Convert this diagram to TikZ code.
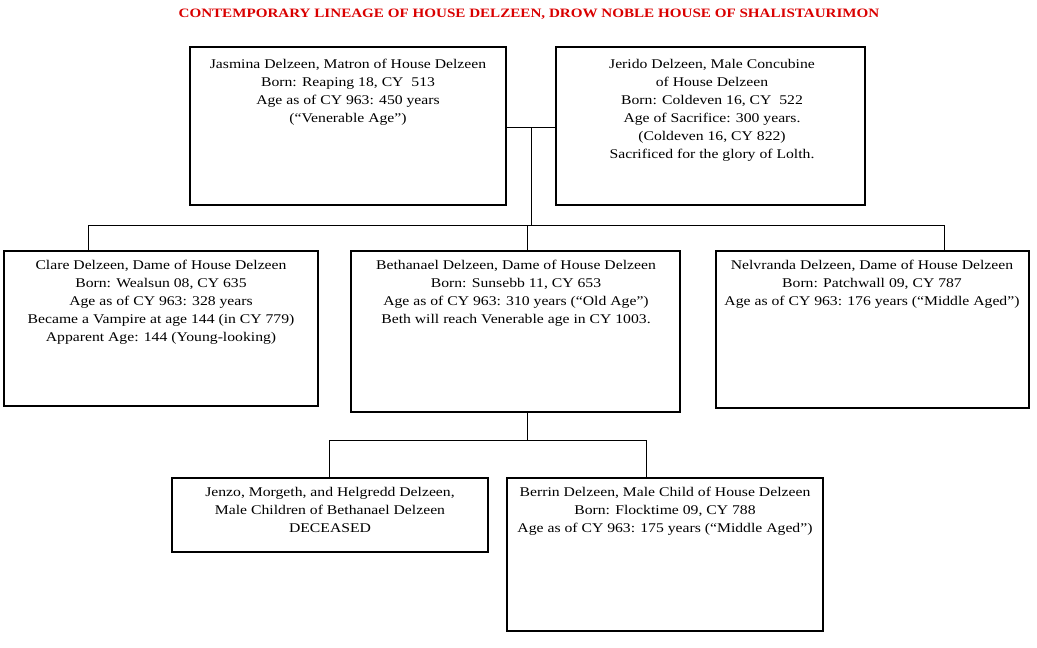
\documentclass[tikz,border=0pt]{standalone}
\usepackage{fontspec}
\setmainfont{Liberation Serif}[FakeStretch=1.18]
\begin{document}
\begin{tikzpicture}[x=1pt,y=-1pt,
  box/.style={draw,line width=1.6pt},
  txt/.style={anchor=north,align=center,font=\fontsize{13.3}{18}\selectfont,inner sep=0pt},
  ln/.style={line width=0.7pt}]
\useasboundingbox (0,0) rectangle (1037,648);
\node[font=\fontsize{12.8}{14}\selectfont\bfseries,text=red!85!black] (title) at (529,14) {CONTEMPORARY LINEAGE OF HOUSE DELZEEN, DROW NOBLE HOUSE OF SHALISTAURIMON};
\draw[box] (190,47) rectangle (506,205) coordinate (b1);
\draw[box] (556,47) rectangle (865,205) coordinate (b2);
\draw[box] (4,251) rectangle (318,406);
\draw[box] (351,251) rectangle (680,412);
\draw[box] (716,251) rectangle (1029,408);
\draw[box] (172,478) rectangle (488,552);
\draw[box] (507,478) rectangle (823,631);
\node[txt] (t1) at (348,59) {Jasmina Delzeen, Matron of House Delzeen\\Born: Reaping 18, CY\ \ 513\\Age as of CY 963: 450 years\\(“Venerable Age”)};
\node[txt] (t2) at (712,59) {Jerido Delzeen, Male Concubine\\of House Delzeen\\Born: Coldeven 16, CY\ \ 522\\Age of Sacrifice: 300 years.\\(Coldeven 16, CY 822)\\Sacrificed for the glory of Lolth.};
\node[txt] (t3) at (161,260) {Clare Delzeen, Dame of House Delzeen\\Born: Wealsun 08, CY 635\\Age as of CY 963: 328 years\\Became a Vampire at age 144 (in CY 779)\\Apparent Age: 144 (Young-looking)};
\node[txt] (t4) at (516,260) {Bethanael Delzeen, Dame of House Delzeen\\Born: Sunsebb 11, CY 653\\Age as of CY 963: 310 years (“Old Age”)\\Beth will reach Venerable age in CY 1003.};
\node[txt] (t5) at (872,260) {Nelvranda Delzeen, Dame of House Delzeen\\Born: Patchwall 09, CY 787\\Age as of CY 963: 176 years (“Middle Aged”)};
\node[txt] (t6) at (330,487) {Jenzo, Morgeth, and Helgredd Delzeen,\\Male Children of Bethanael Delzeen\\DECEASED};
\node[txt] (t7) at (665,487) {Berrin Delzeen, Male Child of House Delzeen\\Born: Flocktime 09, CY 788\\Age as of CY 963: 175 years (“Middle Aged”)};
\coordinate (m1) at (531,127);
\draw[ln] (506,127) -- (556,127);
\draw[ln] (m1) -- (531,225);
\draw[ln] (88,250) -- (88,225) -- (944,225) -- (944,250);
\draw[ln] (527,225) -- (527,250);
\draw[ln] (527,413) -- (527,440);
\draw[ln] (329,477) -- (329,440) -- (646,440) -- (646,477);
\end{tikzpicture}
\end{document}
